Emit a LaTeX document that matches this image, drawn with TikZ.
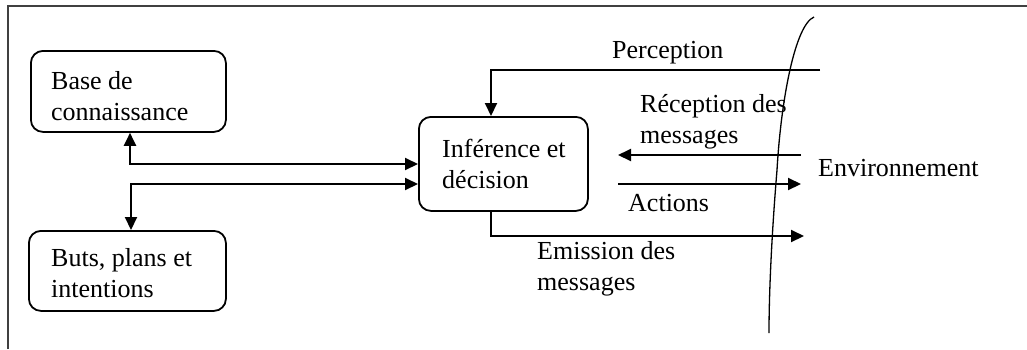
\documentclass[tikz,border=0pt]{standalone}
\usepackage{fontspec}
\setmainfont{Liberation Serif}
\usetikzlibrary{arrows.meta}
\begin{document}
\begin{tikzpicture}[x=1pt,y=-1pt,
  every node/.style={font=\fontsize{26}{31}\selectfont},
  box/.style={draw,line width=1.8pt,rounded corners=12pt,inner sep=0pt,anchor=north west},
  link/.style={line width=2pt,-{Triangle[length=13pt,width=12pt]}},
  biarrow/.style={line width=2pt,{Triangle[length=13pt,width=12pt]}-{Triangle[length=13pt,width=12pt]}},
  lbl/.style={anchor=base west,align=left,inner sep=0pt}]
\useasboundingbox (0,0) rectangle (1027,349);
% frame
\draw[line width=1.5pt,black!75] (8,349) -- (8,6) -- (1027,6);
% boxes
\node[box,minimum width=195pt,minimum height=81pt] (kb) at (30,50) {};
\node[box,minimum width=197pt,minimum height=80pt] (goals) at (28,230) {};
\node[box,minimum width=169pt,minimum height=94pt] (inf) at (418,116) {};
% box texts (anchored on the baseline of the last line)
\node[lbl] (kbt) at (51,120) {Base de\\connaissance};
\node[lbl] (goalst) at (51,297) {Buts, plans et\\intentions};
\node[lbl] (inft) at (442,188) {Inférence et\\décision};
% bend points and free ends
\coordinate (a1) at (130,164);
\coordinate (a2) at (131,184);
\coordinate (px) at (491,70);
\coordinate (pin) at (820,70);
\coordinate (rin) at (801,155);
\coordinate (rout) at (618,155);
\coordinate (aout) at (618,184);
\coordinate (ain) at (801,184);
\coordinate (eout) at (804,236);
% internal links
\draw[biarrow] (kb.south -| a1) |- (inf.west |- a1);
\draw[biarrow] (goals.north -| a2) |- (inf.west |- a2);
% links with the environment
\draw[link] (pin) -| (inf.north -| px);
\draw[link] (rin) -- (rout);
\draw[link] (aout) -- (ain);
\draw[link] (inf.south -| px) |- (eout);
% labels
\node[lbl] (lp) at (612,58) {Perception};
\node[lbl] (lr) at (640,143) {Réception des\\messages};
\node[lbl] (la) at (628,211) {Actions};
\node[lbl] (le) at (537,290) {Emission des\\messages};
\node[lbl] (env) at (818,176) {Environnement};
% boundary of the environment
\draw[line width=1.3pt] (814,17) .. controls (795,25) and (781,100) .. (777,170) .. controls (772,230) and (769,290) .. (769,333);
\end{tikzpicture}
\end{document}
